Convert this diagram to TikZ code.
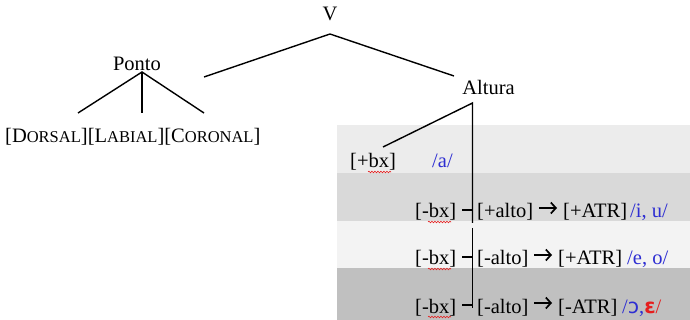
\documentclass[tikz,border=0pt]{standalone}
\usepackage{fontspec}
\setmainfont{Liberation Serif}
\newfontfamily\symfont{DejaVu Sans}
\usetikzlibrary{decorations.pathmorphing,arrows.meta}
\newcommand{\fakesc}[2]{#1{\fontsize{16.5}{16.5}\selectfont #2}}
\definecolor{ipablue}{RGB}{45,45,210}
\definecolor{ipared}{RGB}{230,30,30}
\definecolor{bandA}{RGB}{236,236,236}
\definecolor{bandB}{RGB}{217,217,217}
\definecolor{bandC}{RGB}{243,243,243}
\definecolor{bandD}{RGB}{192,192,192}
\begin{document}
\begin{tikzpicture}[x=1pt,y=-1pt,
  txt/.style={inner sep=0pt, anchor=base west, font=\fontsize{20.5}{24}\selectfont},
  ctxt/.style={inner sep=0pt, anchor=base, font=\fontsize{20.5}{24}\selectfont},
  wing/.style={line width=1.7pt, black, -{Straight Barb[length=5pt, width=11pt, line width=1.7pt]}},
  branch/.style={line width=1.4pt, black},
  squig/.style={ipared, line width=0.6pt, decorate, decoration={snake, amplitude=0.8pt, segment length=3pt}}]
\path[use as bounding box] (0,0) rectangle (690,320);
% bands
\fill[bandA] (337,125) rectangle (690,173);
\fill[bandB] (337,173) rectangle (690,221);
\fill[bandC] (337,221) rectangle (690,268);
\fill[bandD] (337,268) rectangle (690,320);
% upper tree
\node[ctxt] (V) at (330,21) {V};
\node[ctxt] (ponto) at (137,71) {Ponto};
\node[ctxt] (alt) at (488.5,95) {Altura};
\node[txt] (feat) at (5,143) {[\fakesc{D}{ORSAL}][\fakesc{L}{ABIAL}][\fakesc{C}{ORONAL}]};
\coordinate (vapex) at (330,34);
\coordinate (vleft) at (204,77);
\coordinate (vright) at (454,76);
\coordinate (papex) at (142,72);
\coordinate (pl) at (78,113);
\coordinate (pm) at (142,113);
\coordinate (pr) at (204,113);
\draw[branch] (vleft) -- (vapex) -- (vright);
\draw[branch] (pl) -- (papex) -- (pr);
\draw[branch] (papex) -- (pm);
% Altura subtree
\coordinate (aapex) at (472.5,103);
\coordinate (bxend) at (383,147);
\coordinate (vb1) at (472.5,223);
\coordinate (vt2) at (472.5,228);
\coordinate (vb2) at (472.5,308);
\draw[branch] (bxend) -- (aapex) -- (vb1);
\draw[branch] (vt2) -- (vb2);
% row 1
\node[txt] (pbx) at (350,168) {[+bx]};
\node[txt, text=ipablue] (va) at (432,168) {/a/};
% row 2
\node[txt] (m1) at (415,218) {[-bx]};
\node[txt] (h1) at (477,218) {[+alto]};
\coordinate (a1s) at (539,208);
\coordinate (a1e) at (557,208);
\draw[wing] (a1s) -- (a1e);
\node[txt] (t1) at (563,218) {[+ATR]};
\node[txt, text=ipablue] (v1) at (630,218) {/i, u/};
% row 3
\node[txt] (m2) at (415,265) {[-bx]};
\node[txt] (h2) at (477,265) {[-alto]};
\coordinate (a2s) at (534,255);
\coordinate (a2e) at (552,255);
\draw[wing] (a2s) -- (a2e);
\node[txt] (t2) at (558,265) {[+ATR]};
\node[txt, text=ipablue] (v2) at (627,265) {/e, o/};
% row 4
\node[txt] (m3) at (415,313) {[-bx]};
\node[txt] (h3) at (477,313) {[-alto]};
\coordinate (a3s) at (534,303);
\coordinate (a3e) at (552,303);
\draw[wing] (a3s) -- (a3e);
\node[txt] (t3) at (558,313) {[-ATR]};
\node[txt] (v3) at (622,313) {\textcolor{ipablue}{/{\symfont ɔ},}\textcolor{ipared}{{\symfont\bfseries ɛ}/}};
% ticks
\coordinate (k1) at (462,210);
\coordinate (k2) at (462,257);
\coordinate (k3) at (462,305);
\draw[branch] (k1) -- (k1 -| vb1);
\draw[branch] (k2) -- (k2 -| vb2);
\draw[branch] (k3) -- (k3 -| vb2);
% spell-check squiggles
\draw[squig] (368,172) -- (391,172);
\draw[squig] (428,222) -- (451,222);
\draw[squig] (428,269) -- (451,269);
\draw[squig] (428,317) -- (451,317);
\end{tikzpicture}
\end{document}
